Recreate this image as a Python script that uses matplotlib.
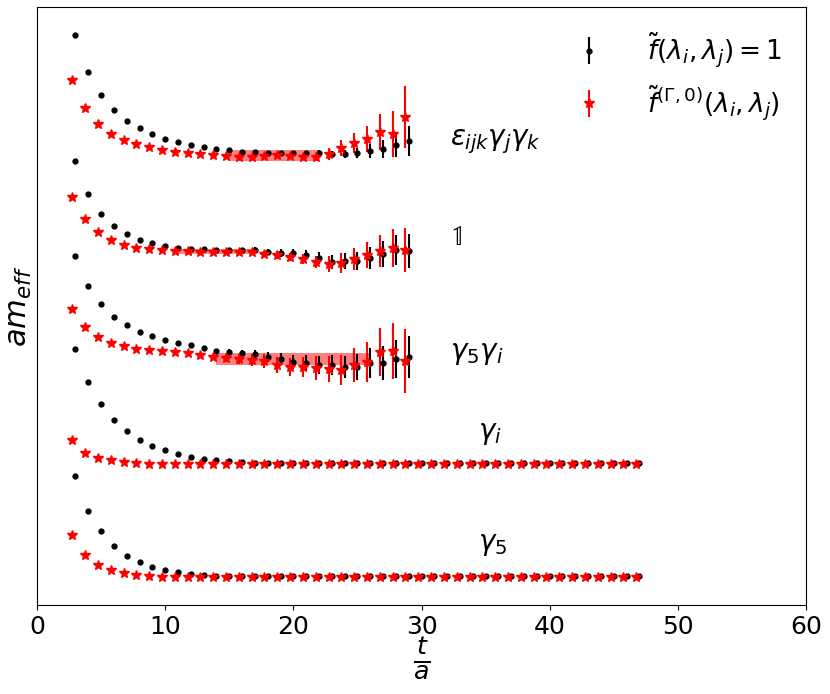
import numpy as np
import matplotlib
matplotlib.use("Agg")
import matplotlib.pyplot as plt

# effective masses (arbitrary, offset units per channel), t = 3..29 or 3..47
t_short = np.arange(3, 30)
t_long = np.arange(3, 48)

eps_black = [570,533,510,495,484,477,471,466,463,460,458,456,455,453,453,452,452,452,452,452,451,451,452,454,456,460,464]
eps_red   = [525,497,481,471,465,461,458,455,453,452,451,450,449,448,448,449,450,449,448,448,451,457,462,466,473,471,488]
eps_berr  = [0.5]*18+[2,3,3,4,5,7,9,12,15]
eps_rerr  = [0.5]*18+[3,4,6,8,10,13,18,23,31]

one_black = [444,411,391,379,371,365,362,359,357,356,356,355,355,355,355,353,352,352,350,347,343,344,344,347,351,355,354]
one_red   = [408,386,373,365,360,357,356,355,354,354,353,353,353,353,353,351,350,348,346,343,341,342,346,350,354,357,355]
one_berr  = [0.5]*12+[2,2,3,3,4,4,5,6,7,8,9,11,13,15,17]
one_rerr  = [0.5]*12+[2,2,3,3,4,4,5,6,8,10,11,13,16,19,22]

g5gi_black = [349,319,301,288,280,273,269,265,262,260,257,254,253,252,251,248,246,243,242,240,240,238,238,242,242,246,248]
g5gi_red   = [296,278,268,262,259,256,255,254,253,252,250,248,247,246,245,244,240,238,238,237,236,235,240,243,253,254,244]
g5gi_berr  = [0.5]*11+[2,3,3,4,5,6,7,8,9,10,11,13,15,17,19,21]
g5gi_rerr  = [0.5]*11+[3,4,5,6,7,8,9,10,12,13,15,17,20,24,28,32]

gi_black = [256,223,201,185,174,165,159,155,151,148,146,145,144,143] + [142]*31
gi_red   = [165,152,147,145,143,142] + [141]*39
gi_err   = [0.5]*10 + [1.5]*35

g5_black = [129,94,74,59,49,43,38,35,33,31,30] + [29]*34
g5_red   = [70,50,40,35,32,30,29] + [28]*38
g5_err   = [0.5]*10 + [1.5]*35

# fit bands: (t_start, t_end, centre, half width)
bands = [(15, 22, 449.5, 5.5), (10.9, 17, 353.5, 2.5), (14, 25.9, 246, 6)]

labels = [r'$\epsilon_{ijk}\gamma_j\gamma_k$', r'$\mathbb{1}$', r'$\gamma_5\gamma_i$', r'$\gamma_i$', r'$\gamma_5$']
label_pos = [(32.2, 460), (32.2, 360), (32.2, 246), (34.4, 166), (34.4, 55)]

fig = plt.figure(figsize=(8.3, 6.94), dpi=100)
ax = fig.add_axes([37/830, 1-605/694, (806-37)/830, (605-7)/694])

sets = [(t_short, eps_black, eps_red, eps_berr, eps_rerr),
        (t_short, one_black, one_red, one_berr, one_rerr),
        (t_short, g5gi_black, g5gi_red, g5gi_berr, g5gi_rerr),
        (t_long, gi_black, gi_red, gi_err, gi_err),
        (t_long, g5_black, g5_red, g5_err, g5_err)]
for i, (t, b, r, be, re) in enumerate(sets):
    ax.errorbar(t, b, yerr=be, fmt='o', color='black', ms=3.5, elinewidth=1.5,
                label=r'$\tilde{f}(\lambda_i,\lambda_j)=1$' if i == 0 else None)
    ax.errorbar(t - 0.25, r, yerr=re, fmt='*', color='red', ms=7, elinewidth=1.5,
                label=r'$\tilde{f}^{(\Gamma,0)}(\lambda_i,\lambda_j)$' if i == 0 else None)

for (a, e, c, h) in bands:
    ax.fill_between([a, e], c - h, c + h, color='red', alpha=0.5, lw=0)

for lab, (x, y) in zip(labels, label_pos):
    ax.text(x, y, lab, fontsize=20)

ax.set_xlim(0, 60)
ax.set_ylim(0, 598)
ax.set_yticks([])
ax.tick_params(axis='x', labelsize=18)
ax.set_xlabel(r'$\frac{t}{a}$', fontsize=26, labelpad=-2)
ax.set_ylabel(r'$am_{eff}$', fontsize=22, labelpad=2)
ax.legend(loc='upper right', fontsize=19, frameon=False, handletextpad=1.2)

fig.savefig('out.png', dpi=100)
